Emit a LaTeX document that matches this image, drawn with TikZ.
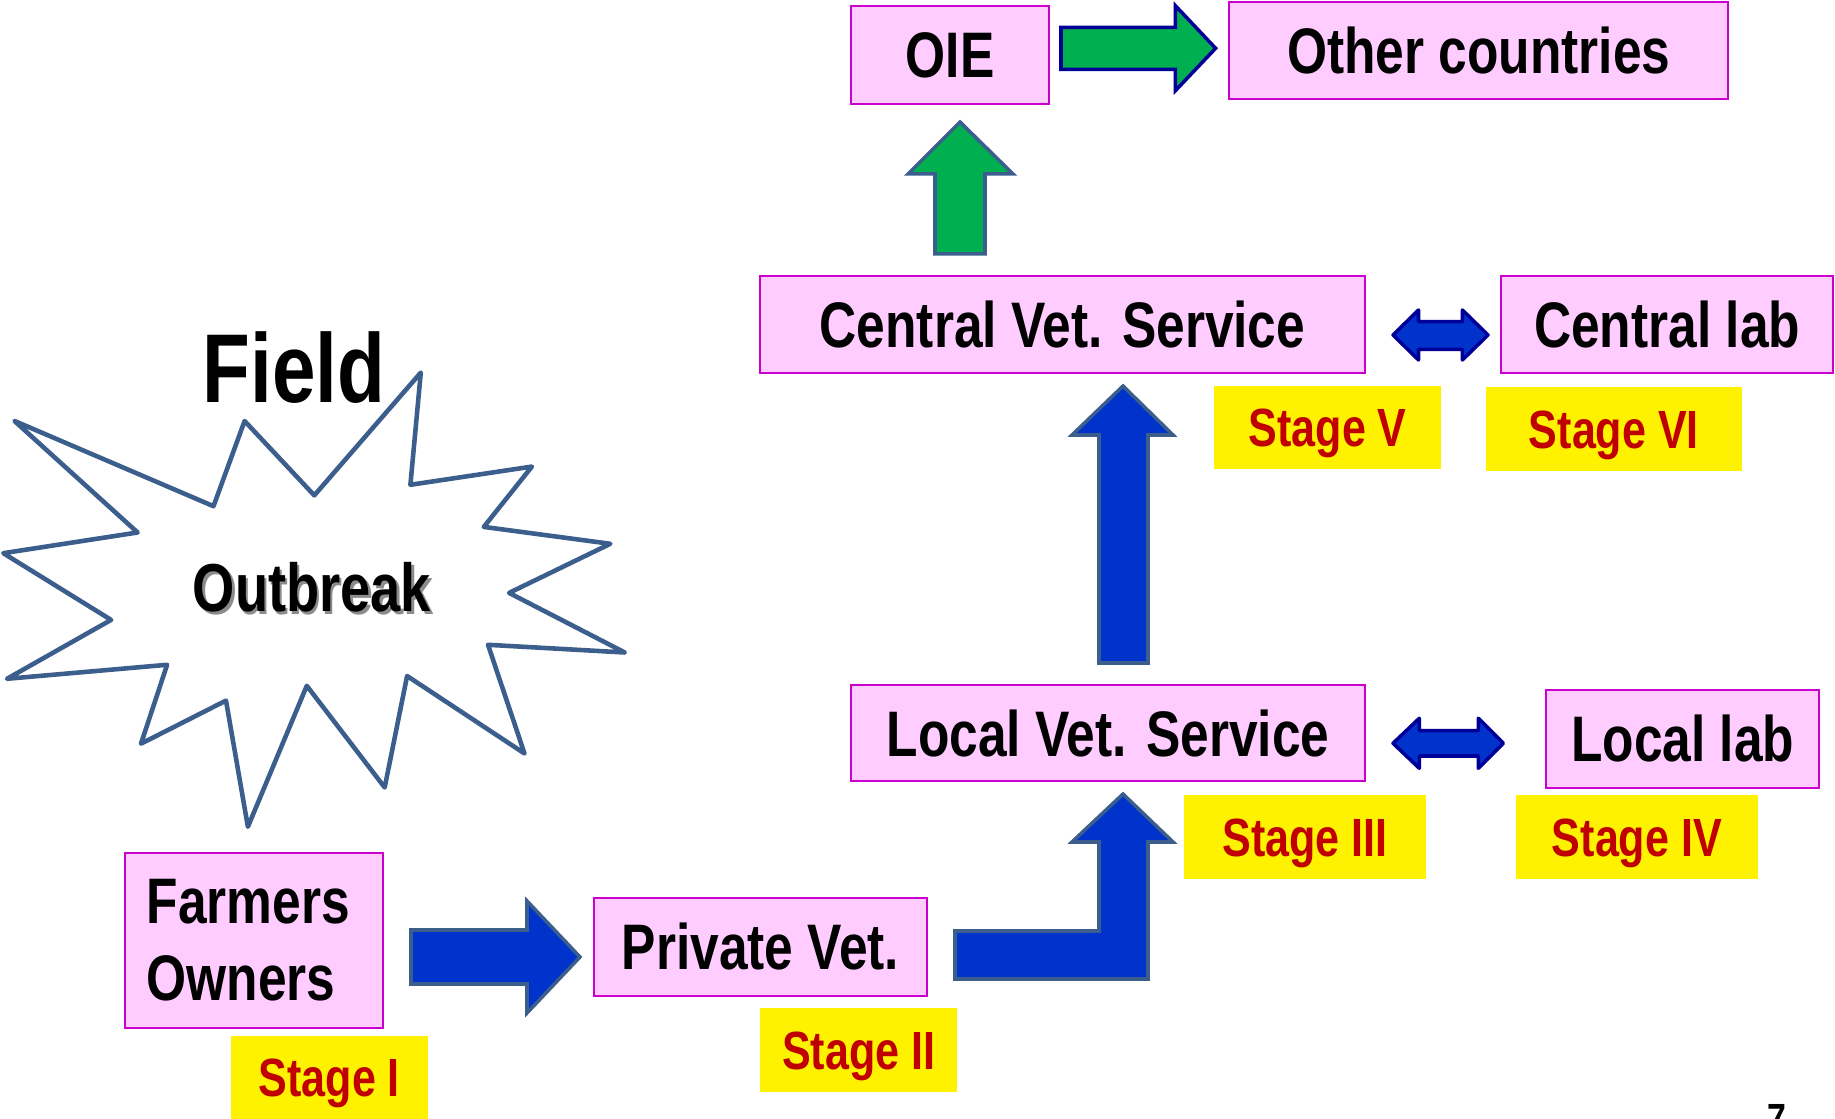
\documentclass[tikz,border=0pt]{standalone}
\usepackage{fontspec}
\setmainfont{Liberation Sans}[FakeStretch=0.8]
\definecolor{boxpink}{HTML}{FFCCFF}
\definecolor{boxedge}{HTML}{CC00CC}
\definecolor{stagered}{HTML}{C00000}
\definecolor{arrowblue}{HTML}{0033CC}
\definecolor{arrowedge}{HTML}{3B5E8C}
\definecolor{arrownavy}{HTML}{000099}
\definecolor{arrowgreen}{HTML}{00B050}

\begin{document}
\begin{tikzpicture}[x=0.01cm, y=-0.01cm,
		pinkbox/.style={draw=boxedge, fill=boxpink, line width=0.6pt, inner sep=0pt,
			font=\fontsize{18.3pt}{21.8pt}\selectfont\bfseries, text height=13.1pt, text depth=0pt},
		stagebox/.style={fill=yellow, text=stagered, inner sep=0pt, minimum height=0.835cm,
			font=\fontsize{15.3pt}{18pt}\selectfont\bfseries, text height=10.95pt, text depth=0pt},
		bluearrow/.style={fill=arrowblue, draw=arrowedge, line width=1pt},
		twoway/.style={fill=arrowblue, draw=arrownavy, line width=1pt, line join=round}]
		\useasboundingbox (0,0) rectangle (1835,1119);
		% outbreak star
		\draw[arrowedge, line width=1.3pt, line join=round, fill=white]
			(14.5,421) -- (213.5,506.2) -- (244.6,421) -- (314.3,495.4) -- (420.8,372.6)
			-- (410.4,484.8) -- (531.9,466.6) -- (483.8,526.9) -- (610.3,543.8) -- (509.1,592.9)
			-- (624.8,652.5) -- (488,644.8) -- (524.5,753.5) -- (407.1,676) -- (384.7,787.5)
			-- (306.8,685.8) -- (247.9,826.8) -- (226,700.6) -- (141,743.7) -- (167.1,664.8)
			-- (7,678.8) -- (111.1,619.9) -- (3.3,553.2) -- (137.6,532.5) -- cycle;
		\node[inner sep=0pt, font=\fontsize{27.8pt}{30pt}\selectfont\bfseries, text height=19.9pt, text depth=0pt] (field) at (294,368) {Field};
		\node[inner sep=0pt, font=\fontsize{19.3pt}{22pt}\selectfont\bfseries, text height=13.8pt, text depth=0pt] (outbreak) at (312,587.5)
			{\rlap{\hspace{0.7pt}\raisebox{-0.7pt}{\color{black!45}Outbreak}}Outbreak};
		% boxes
		\node[pinkbox, text height={}, text depth={}, align=left, text width=2.143cm, inner xsep=0.217cm, minimum height=1.753cm] (farmers) at (253.9,940.3) {Farmers\\Owners};
		\node[pinkbox, minimum width=3.323cm, minimum height=0.977cm] (private) at (760.5,946.9) {Private Vet.\hspace{0.1cm}};
		\node[pinkbox, minimum width=5.143cm, minimum height=0.965cm] (localvet) at (1108,733) {Local Vet. Service};
		\node[pinkbox, minimum width=2.733cm, minimum height=0.977cm] (locallab) at (1682.7,738.8) {Local lab};
		\node[pinkbox, minimum width=6.05cm, minimum height=0.973cm] (centralvet) at (1062.5,324.7) {Central Vet. Service\hspace{0.2cm}};
		\node[pinkbox, minimum width=3.316cm, minimum height=0.973cm] (centrallab) at (1667.2,324.7) {Central lab};
		\node[pinkbox, minimum width=1.972cm, minimum height=0.98cm] (oie) at (950,54.7) {OIE};
		\node[pinkbox, minimum width=4.987cm, minimum height=0.976cm] (others) at (1478.8,50.5) {Other countries};
		% stages
		\node[stagebox, minimum width=1.97cm] (stage1) at (329.4,1077.7) {Stage I};
		\node[stagebox, minimum width=1.973cm] (stage2) at (858.7,1050) {Stage II};
		\node[stagebox, minimum width=2.42cm] (stage3) at (1304.9,837) {Stage III};
		\node[stagebox, minimum width=2.417cm] (stage4) at (1636.9,837) {Stage IV};
		\node[stagebox, minimum width=2.267cm] (stage5) at (1327.7,427.7) {Stage V};
		\node[stagebox, minimum width=2.563cm] (stage6) at (1613.9,429) {Stage VI};
		% arrows
		\draw[bluearrow] (411,930) -- (527,930) -- (527,901) -- (580,957) -- (527,1013) -- (527,984) -- (411,984) -- cycle;
		\draw[bluearrow] (955,931) -- (1099,931) -- (1099,842) -- (1072,842) -- (1123,794) -- (1173,842) -- (1148,842) -- (1148,979) -- (955,979) -- cycle;
		\draw[bluearrow] (1099,663) -- (1099,435) -- (1072,435) -- (1123,386) -- (1173,435) -- (1148,435) -- (1148,663) -- cycle;
		\draw[fill=arrowgreen, draw=arrowedge, line width=1pt] (935,254) -- (935,174) -- (908,174) -- (960,122) -- (1013,174) -- (985,174) -- (985,254) -- cycle;
		\draw[fill=arrowgreen, draw=arrownavy, line width=1pt] (1061,27.3) -- (1175.4,27.3) -- (1175.4,5.7) -- (1215.6,48.3) -- (1175.4,90.7) -- (1175.4,69.3) -- (1061,69.3) -- cycle;
		\draw[twoway] (1393,335) -- (1418.5,310) -- (1418.5,321.7) -- (1462.4,321.7) -- (1462.4,310) -- (1488,335)
			-- (1462.4,360) -- (1462.4,349.3) -- (1418.5,349.3) -- (1418.5,360) -- cycle;
		\draw[twoway] (1393,743.3) -- (1419.3,718.3) -- (1419.3,730.7) -- (1478.3,730.7) -- (1478.3,718.3) -- (1503.3,743.3)
			-- (1478.3,768.3) -- (1478.3,756) -- (1419.3,756) -- (1419.3,768.3) -- cycle;
		\node[inner sep=0pt, anchor=base, font=\fontsize{12pt}{14pt}\selectfont\bfseries] (page) at (1776.5,1134) {7};
\end{tikzpicture}
\end{document}
